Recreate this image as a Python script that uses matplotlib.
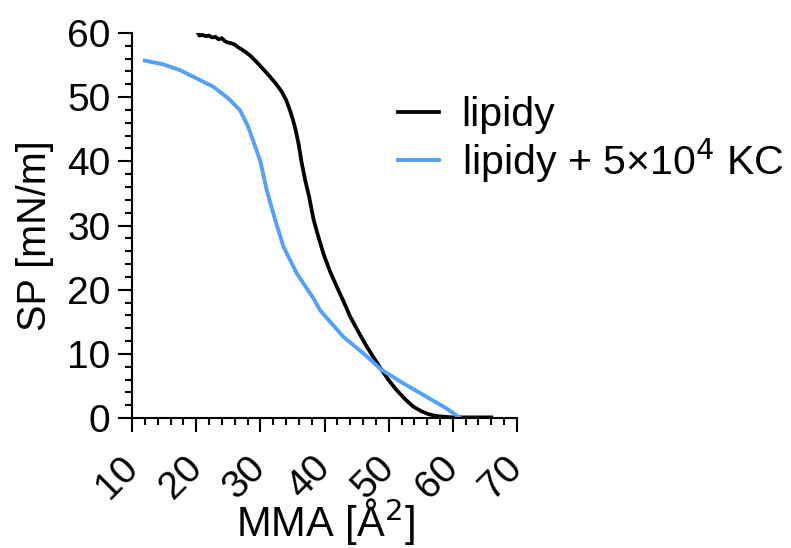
import numpy as np
import matplotlib
matplotlib.use("Agg")
import matplotlib.pyplot as plt
from matplotlib.ticker import MultipleLocator

plt.rcParams['font.family'] = ['Liberation Sans', 'DejaVu Sans']

# Surface pressure isotherms
mma_lip = [20.3, 20.5, 21.0, 21.5, 22.0, 22.5, 23.0, 23.5, 24.0, 24.5, 25.0,
           25.5, 26.0, 26.5, 27.0, 27.6, 28.5, 29.4, 30.5, 31.5, 32.5, 33.3,
           34.0, 34.6, 35.1, 35.5, 36.0, 36.4, 37.0, 37.6, 38.3, 39.0, 39.8,
           40.8, 41.9, 43.0, 44.0, 45.3, 46.6, 47.8, 48.9, 50.0, 51.2, 52.5,
           53.8, 55.0, 56.2, 57.0, 58.0, 60.0, 62.0, 64.0, 66.0]
sp_lip = [60.0, 59.6, 59.7, 59.5, 59.6, 59.3, 59.4, 59.0, 59.2, 58.7, 58.5,
          58.4, 58.2, 57.8, 57.5, 57.1, 56.4, 55.5, 54.3, 53.2, 52.0, 50.9,
          49.6, 48.0, 46.4, 44.9, 42.5, 40.0, 37.0, 34.5, 30.9, 28.4, 25.7,
          23.0, 20.5, 18.1, 15.8, 13.4, 11.1, 9.2, 7.5, 5.9, 4.4, 3.0,
          1.8, 1.1, 0.6, 0.4, 0.25, 0.1, 0.1, 0.1, 0.1]

mma_kc = [12.0, 14.9, 17.5, 20.1, 22.7, 25.0, 26.8, 28.1, 29.2, 30.0, 31.0,
          32.3, 33.6, 35.7, 38.3, 39.3, 42.9, 46.6, 48.9, 52.3, 55.9, 59.0,
          61.0]
sp_kc = [55.7, 55.1, 54.2, 52.9, 51.6, 49.8, 48.0, 45.4, 42.3, 40.0, 35.5,
         30.9, 26.7, 22.5, 18.6, 16.8, 12.7, 9.6, 7.5, 5.4, 3.3, 1.5,
         0.1]

labels = ['lipidy', 'lipidy + 5×10$^{4}$ KC']

fig = plt.figure(figsize=(7.91, 5.48), dpi=100)
ax = fig.add_axes([0.1669, 0.2372, 0.4867, 0.7026])

ax.plot(mma_lip, sp_lip, color='black', lw=2.7, label=labels[0])
ax.plot(mma_kc, sp_kc, color='#55A0F8', lw=2.8, label=labels[1])

ax.set_xlim(10, 70)
ax.set_ylim(0, 60)
ax.xaxis.set_major_locator(MultipleLocator(10))
ax.xaxis.set_minor_locator(MultipleLocator(2))
ax.yaxis.set_major_locator(MultipleLocator(10))
ax.yaxis.set_minor_locator(MultipleLocator(2))

for s in ['top', 'right']:
    ax.spines[s].set_visible(False)
for s in ['left', 'bottom']:
    ax.spines[s].set_linewidth(1.5)

ax.tick_params(which='major', length=10, width=1.5, labelsize=28)
ax.tick_params(which='minor', length=5, width=1.5)
ax.tick_params(axis='y', pad=5.5)
ax.tick_params(axis='x', pad=22)
for lab in ax.get_xticklabels():
    lab.set_rotation(45)
    lab.set_ha('right')
    lab.set_va('center')
    lab.set_rotation_mode('anchor')

ax.set_xlabel('MMA [Å$^{2}$]', fontsize=30, va='top')
ax.xaxis.set_label_coords(0.501, -0.203)
ax.set_ylabel('SP [mN/m]', fontsize=28.5)
ax.yaxis.set_label_coords(-0.203, 0.473)

ax.legend(loc='upper left', bbox_to_anchor=(398 / 791, 1 - 96 / 548),
          bbox_transform=fig.transFigure, frameon=False, fontsize=29.6,
          handlelength=1.0, handletextpad=0.55, borderpad=0, borderaxespad=0,
          labelspacing=0.06)

fig.savefig('out.png', dpi=100)
